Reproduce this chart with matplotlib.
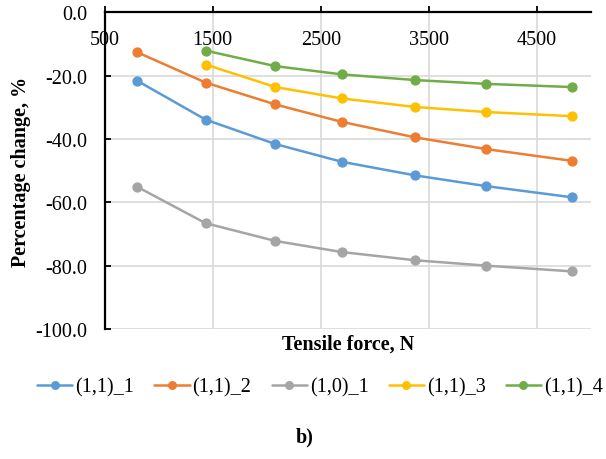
import matplotlib
matplotlib.use("Agg")
import matplotlib.pyplot as plt

plt.rcParams['font.family'] = ['Liberation Serif', 'DejaVu Serif']

# Data
force_all = [800, 1435, 2080, 2695, 3375, 4035, 4825]
force_late = [1435, 2080, 2695, 3375, 4035, 4825]

s11_1 = [-21.6, -33.9, -41.6, -47.2, -51.5, -54.9, -58.4]
s11_2 = [-12.6, -22.2, -29.1, -34.6, -39.5, -43.2, -46.9]
s10_1 = [-55.1, -66.6, -72.2, -75.7, -78.3, -80.0, -81.8]
s11_3 = [-16.5, -23.6, -27.2, -29.9, -31.5, -32.8]
s11_4 = [-12.1, -17.0, -19.6, -21.4, -22.6, -23.6]

series = [
    ("(1,1)_1", force_all, s11_1, "#5B9BD5"),
    ("(1,1)_2", force_all, s11_2, "#ED7D31"),
    ("(1,0)_1", force_all, s10_1, "#A5A5A5"),
    ("(1,1)_3", force_late, s11_3, "#FFC000"),
    ("(1,1)_4", force_late, s11_4, "#70AD47"),
]

x_ticks = [500, 1500, 2500, 3500, 4500]
y_ticks = [0, -20, -40, -60, -80, -100]
y_tick_labels = ["0.0", "-20.0", "-40.0", "-60.0", "-80.0", "-100.0"]

FS = 14.5

fig = plt.figure(figsize=(6.06, 4.60), dpi=100)
ax = fig.add_axes([104.7 / 606, 1 - 330 / 460, (590.7 - 104.7) / 606, (330 - 13.3) / 460])

for name, xs, ys, c in series:
    ax.plot(xs, ys, color=c, lw=1.8, marker='o', markersize=6.4, label=name,
            solid_capstyle='round', zorder=3)

ax.set_xlim(500, 5000)
ax.set_ylim(-100, 0)
ax.set_xticks(x_ticks)
ax.set_yticks(y_ticks)
ax.set_yticklabels(y_tick_labels)

ax.grid(True, color="#D9D9D9", lw=1.2, zorder=0)
ax.set_axisbelow(True)

for side in ['bottom', 'right']:
    ax.spines[side].set_visible(False)
for side in ['left', 'top']:
    ax.spines[side].set_color('black')
    ax.spines[side].set_linewidth(1.6)

ax.tick_params(axis='x', top=True, bottom=False, labeltop=True, labelbottom=False,
               direction='out', length=4.5, width=1.3, pad=-30.8, labelsize=FS)
ax.tick_params(axis='y', left=True, right=False, direction='in', length=4, width=1.3,
               pad=12.5, labelsize=FS)

ax.set_xlabel("Tensile force, N", fontsize=FS, fontweight='bold', labelpad=3)
ax.xaxis.set_label_position('bottom')
ax.set_ylabel("Percentage change, %", fontsize=FS, fontweight='bold')
ax.yaxis.set_label_coords(-0.152, 0.5)

fig.legend(loc='center', bbox_to_anchor=(320 / 606, 1 - 388 / 460), ncol=5,
           frameon=False, fontsize=FS, handlelength=1.75, handletextpad=0.15,
           columnspacing=1.0, markerscale=0.85)

fig.text(305 / 606, 1 - 437 / 460, "b)", ha='center', va='center',
         fontsize=FS, fontweight='bold')

fig.savefig("out.png", dpi=100)
